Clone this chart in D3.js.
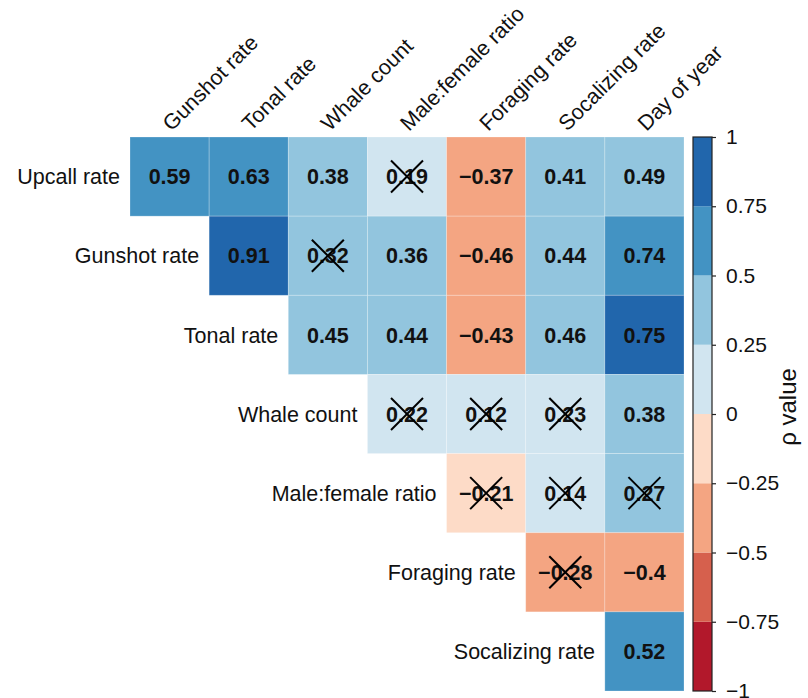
<!DOCTYPE html>
<html>
<head>
<meta charset="utf-8">
<script src="https://cdn.jsdelivr.net/npm/d3@7"></script>
<style>
  html, body { margin: 0; padding: 0; background: #fff; }
  svg { display: block; font-family: "Liberation Sans", Arial, Helvetica, sans-serif; }
</style>
</head>
<body>
<svg id="chart" width="808" height="698"></svg>
<script>
// Variables along the rows and columns of the correlation triangle
const rowVars = ["Upcall rate", "Gunshot rate", "Tonal rate", "Whale count",
                 "Male:female ratio", "Foraging rate", "Socalizing rate"];
const colVars = ["Gunshot rate", "Tonal rate", "Whale count", "Male:female ratio",
                 "Foraging rate", "Socalizing rate", "Day of year"];

// Spearman rho per row (starting at the diagonal column for that row)
const rhoUpcall   = [0.59, 0.63, 0.38, 0.19, -0.37, 0.41, 0.49];
const rhoGunshot  = [0.91, 0.32, 0.36, -0.46, 0.44, 0.74];
const rhoTonal    = [0.45, 0.44, -0.43, 0.46, 0.75];
const rhoWhale    = [0.22, 0.12, 0.23, 0.38];
const rhoMaleFem  = [-0.21, 0.14, 0.27];
const rhoForaging = [-0.28, -0.4];
const rhoSocial   = [0.52];

// Non-significant correlations are crossed out
const nsUpcall   = [false, false, false, true, false, false, false];
const nsGunshot  = [false, true, false, false, false, false];
const nsTonal    = [false, false, false, false, false];
const nsWhale    = [true, true, true, false];
const nsMaleFem  = [true, true, true];
const nsForaging = [true, false];
const nsSocial   = [false];

const rhoRows = [rhoUpcall, rhoGunshot, rhoTonal, rhoWhale, rhoMaleFem, rhoForaging, rhoSocial];
const nsRows  = [nsUpcall, nsGunshot, nsTonal, nsWhale, nsMaleFem, nsForaging, nsSocial];

// Colour legend
const legendTicks = [1, 0.75, 0.5, 0.25, 0, -0.25, -0.5, -0.75, -1];
const binColors = ["#B2182B", "#D6604D", "#F4A582", "#FDDBC7",
                   "#D1E5F0", "#92C5DE", "#4393C3", "#2166AC"];

// Build cell records
const cells = [];
rhoRows.forEach((vals, i) => {
  vals.forEach((v, k) => {
    cells.push({ row: rowVars[i], col: colVars[i + k], value: v, ns: nsRows[i][k] });
  });
});

const svg = d3.select("#chart");
const FS = 21.5;

const x = d3.scaleBand().domain(colVars).range([130, 684]).padding(0);
const y = d3.scaleBand().domain(rowVars).range([137, 691]).padding(0);

const color = d3.scaleThreshold()
  .domain([-0.75, -0.5, -0.25, 0, 0.25, 0.5, 0.75])
  .range(binColors);

const fmt = v => (v < 0 ? "\u2212" : "") + String(Math.abs(v));

// Cells
const g = svg.append("g");
g.selectAll("rect.cell").data(cells).enter().append("rect")
  .attr("class", "cell")
  .attr("x", d => x(d.col))
  .attr("y", d => y(d.row))
  .attr("width", x.bandwidth())
  .attr("height", y.bandwidth())
  .attr("fill", d => color(d.value))
  .attr("stroke", "rgba(255,255,255,0.3)")
  .attr("stroke-width", 0.8);

// Values
g.selectAll("text.val").data(cells).enter().append("text")
  .attr("class", "val")
  .attr("x", d => x(d.col) + x.bandwidth() / 2)
  .attr("y", d => y(d.row) + y.bandwidth() / 2)
  .attr("dy", "0.36em")
  .attr("text-anchor", "middle")
  .attr("font-size", FS)
  .attr("font-weight", "bold")
  .attr("fill", "#111")
  .text(d => fmt(d.value));

// Crosses over non-significant values
const xs = 16;
const crossed = cells.filter(d => d.ns);
const cg = g.selectAll("g.cross").data(crossed).enter().append("g")
  .attr("class", "cross")
  .attr("transform", d => `translate(${x(d.col) + x.bandwidth() / 2},${y(d.row) + y.bandwidth() / 2})`);
cg.append("line").attr("x1", -xs).attr("y1", -xs).attr("x2", xs).attr("y2", xs)
  .attr("stroke", "#000").attr("stroke-width", 2);
cg.append("line").attr("x1", -xs).attr("y1", xs).attr("x2", xs).attr("y2", -xs)
  .attr("stroke", "#000").attr("stroke-width", 2);

// Row labels (left of each row's first cell)
g.selectAll("text.rowlab").data(rowVars).enter().append("text")
  .attr("class", "rowlab")
  .attr("x", (d, i) => x(colVars[i]) - 10)
  .attr("y", d => y(d) + y.bandwidth() / 2)
  .attr("dy", "0.36em")
  .attr("text-anchor", "end")
  .attr("font-size", FS)
  .attr("fill", "#111")
  .text(d => d);

// Column labels, rotated
g.selectAll("text.collab").data(colVars).enter().append("text")
  .attr("class", "collab")
  .attr("transform", d => `translate(${x(d) + x.bandwidth() / 2 + 2},${132}) rotate(-45)`)
  .attr("text-anchor", "start")
  .attr("font-size", FS)
  .attr("fill", "#111")
  .text(d => d);

// Colour bar
const lx = 693, lw = 19;
const ly = d3.scaleLinear().domain([-1, 1]).range([691, 137]);
const bins = d3.range(8).map(i => ({ lo: -1 + i * 0.25, hi: -0.75 + i * 0.25, c: binColors[i] }));
const lg = svg.append("g");
lg.selectAll("rect").data(bins).enter().append("rect")
  .attr("x", lx)
  .attr("y", d => ly(d.hi))
  .attr("width", lw)
  .attr("height", d => ly(d.lo) - ly(d.hi))
  .attr("fill", d => d.c);
lg.append("rect")
  .attr("x", lx).attr("y", ly(1)).attr("width", lw).attr("height", ly(-1) - ly(1))
  .attr("fill", "none").attr("stroke", "#222").attr("stroke-width", 1.2);

const axis = d3.axisRight(ly).tickValues(legendTicks).tickSize(4).tickPadding(10)
  .tickFormat(v => (v < 0 ? "\u2212" : "") + String(Math.abs(v)));
const ag = lg.append("g").attr("transform", `translate(${lx + lw},0)`).call(axis);
ag.select(".domain").remove();
ag.selectAll("line").attr("stroke", "#222").attr("stroke-width", 1.2);
ag.selectAll("text").attr("font-size", 21).attr("fill", "#111")
  .attr("font-family", "\"Liberation Sans\", Arial, sans-serif");

lg.append("text")
  .attr("transform", `translate(796,407) rotate(-90)`)
  .attr("text-anchor", "middle")
  .attr("font-size", 24)
  .attr("fill", "#111")
  .text("\u03C1 value");
</script>
</body>
</html>
